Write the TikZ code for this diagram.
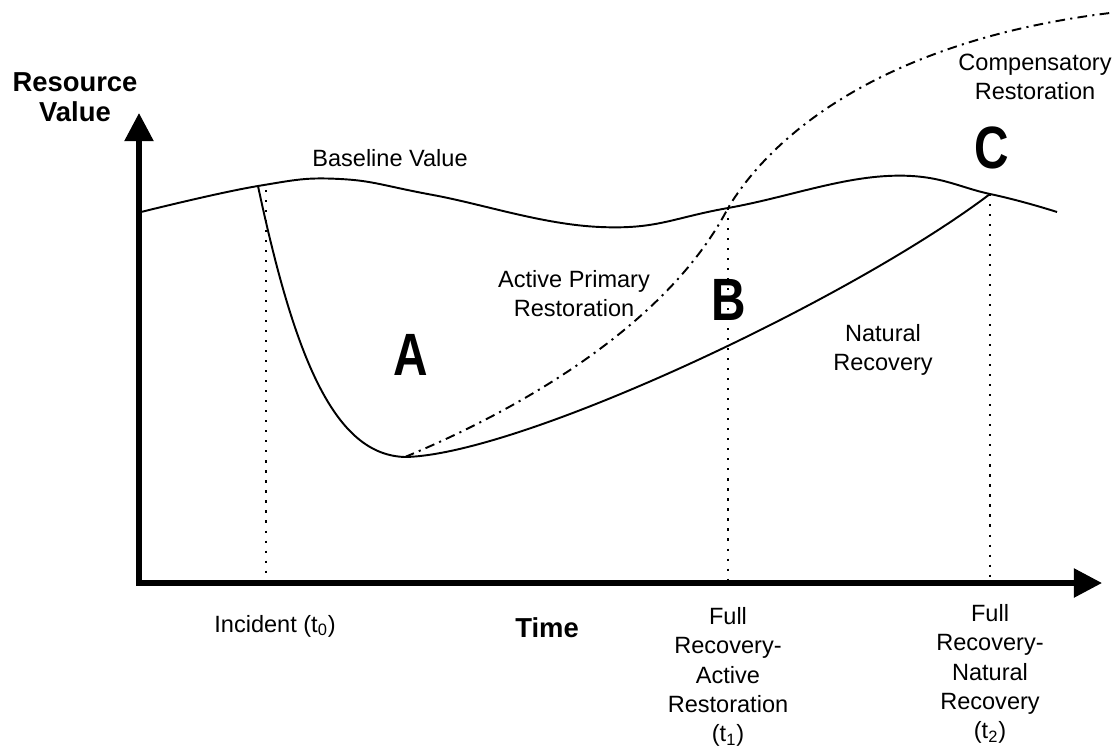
\documentclass[tikz,border=0pt]{standalone}
\usepackage{fontspec}
\setmainfont{Liberation Sans}
\usetikzlibrary{arrows.meta,positioning}

\tikzset{
  axis/.style={line width=3pt, -{Triangle[length=16pt,width=16pt]}},
  curve/.style={line width=1.1pt},
  dashdot/.style={line width=1.1pt, dash pattern=on 5.5pt off 3pt on 1.2pt off 3pt},
  guide/.style={line width=1pt, dash pattern=on 1.2pt off 4.5pt},
  lbl/.style={font=\fontsize{13.4}{16.5}\selectfont, align=center, inner sep=0pt},
  ticklbl/.style={font=\fontsize{13.4}{16.6}\selectfont, align=center, inner sep=0pt},
  boldlbl/.style={font=\fontsize{15.6}{17}\selectfont\bfseries, align=center, inner sep=0pt},
  zone/.style={font=\fontsize{34}{34}\selectfont\bfseries, inner sep=0pt}
}

\begin{document}
\begin{tikzpicture}[x=0.02cm, y=-0.02cm]
  \useasboundingbox (0,0) rectangle (1118,750);

  % key points
  \coordinate (origin) at (139,583);
  \coordinate (yend) at (139,113);
  \coordinate (xend) at (1102,583);
  \coordinate (incident) at (258,186);
  \coordinate (lowest) at (405,457);
  \coordinate (fullactive) at (728,208);
  \coordinate (fullnatural) at (990,194);

  % axes
  \draw[axis] (origin) ++(0,2) -- (yend);
  \draw[axis] (origin) ++(-3,0) -- (xend);

  % baseline
  \draw[curve] plot[smooth, tension=0.7] coordinates
    {(141,212) (258,186) (340,179) (433,195) (600,227) (728,208) (887,176) (990,194) (1057,212)};

  % drop and natural recovery
  \draw[curve] (incident) .. controls (295,360) and (335,455) .. (lowest);
  \draw[curve] (lowest) .. controls (520,455) and (850,300) .. (fullnatural);

  % active primary + compensatory
  \draw[dashdot] (lowest) .. controls (530,405) and (670,320) .. (fullactive)
    .. controls (775,130) and (890,40) .. (1110,13);

  % guides
  \draw[guide] (266,190) -- (266,583);
  \draw[guide] (fullactive) -- (fullactive |- origin);
  \draw[guide] (fullnatural) -- (fullnatural |- origin);

  % labels
  \node[boldlbl] (yname) at (75,97) {Resource\\Value};
  \node[boldlbl] (xname) at (547,628) {Time};
  \node[lbl] (base) at (390,158) {Baseline Value};
  \node[lbl] (active) at (574,294) {Active Primary\\Restoration};
  \node[lbl] (natural) at (883,350) {Natural\\Recovery};
  \node[lbl] (comp) at (1035,77) {Compensatory\\Restoration};
  \node[zone] (A) at (411,355) {\scalebox{0.8}[1]{A}};
  \node[zone] (B) at (729,300) {\scalebox{0.8}[1]{B}};
  \node[zone] (C) at (992,148) {\scalebox{0.8}[1]{C}};
  \node[lbl] (t0) at (275,626) {Incident (t\textsubscript{0})};
  \node[ticklbl] (t1) at (728,677) {Full\\Recovery-\\Active\\Restoration\\(t\textsubscript{1})};
  \node[ticklbl] (t2) at (990,674) {Full\\Recovery-\\Natural\\Recovery\\(t\textsubscript{2})};
\end{tikzpicture}
\end{document}
